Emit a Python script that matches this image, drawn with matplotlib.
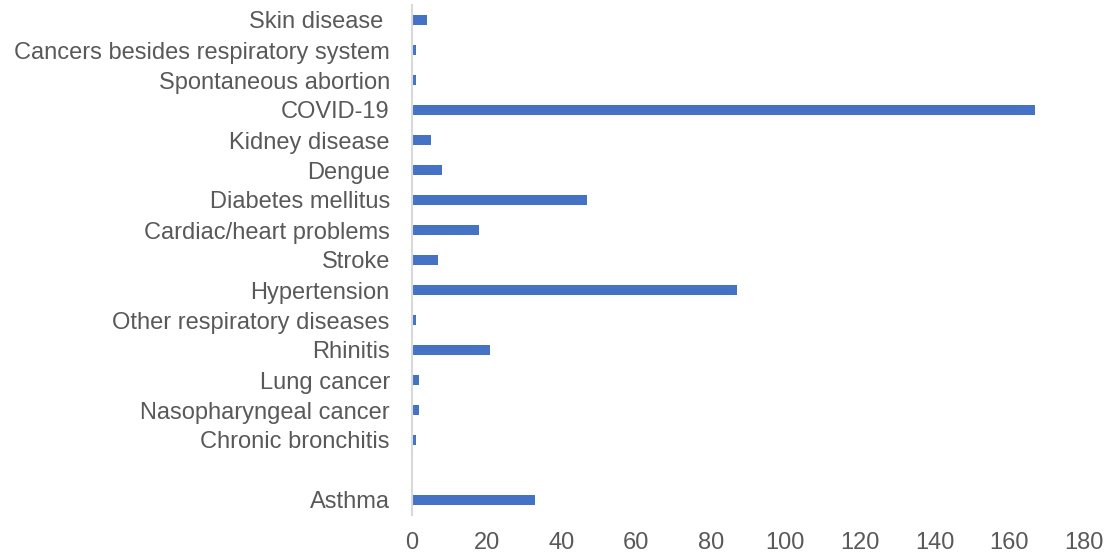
import matplotlib
matplotlib.use("Agg")
import matplotlib.pyplot as plt

categories = ["Asthma", "", "Chronic bronchitis", "Nasopharyngeal cancer", "Lung cancer",
              "Rhinitis", "Other respiratory diseases", "Hypertension", "Stroke",
              "Cardiac/heart problems", "Diabetes mellitus", "Dengue", "Kidney disease",
              "COVID-19", "Spontaneous abortion", "Cancers besides respiratory system",
              "Skin disease "]
values = [33, 0, 1, 2, 2, 21, 1, 87, 7, 18, 47, 8, 5, 167, 1, 1, 4]
xticks = [0, 20, 40, 60, 80, 100, 120, 140, 160, 180]

plt.rcParams['font.family'] = ['Liberation Sans', 'DejaVu Sans']

fig = plt.figure(figsize=(11.16, 5.55), dpi=100)
ax = fig.add_axes([412/1116, 40/555, (1084-412)/1116, 510/555])

ypos = list(range(len(categories)))
ax.barh(ypos, values, height=0.36, color="#4472C4")
ax.set_ylim(-0.5, len(categories) - 0.5)
ax.set_xlim(0, 180)
ax.set_xticks(xticks)
ax.set_xticklabels([str(t) for t in xticks])
ax.set_yticks(ypos)
ax.set_yticklabels(categories)

for s in ["top", "right", "bottom"]:
    ax.spines[s].set_visible(False)
ax.spines["left"].set_color("#D9D9D9")
ax.spines["left"].set_linewidth(1.5)

ax.tick_params(axis="both", length=0, labelsize=17, labelcolor="#595959")
ax.tick_params(axis="y", pad=16)
ax.tick_params(axis="x", pad=12)

fig.savefig("out.png", dpi=100)
